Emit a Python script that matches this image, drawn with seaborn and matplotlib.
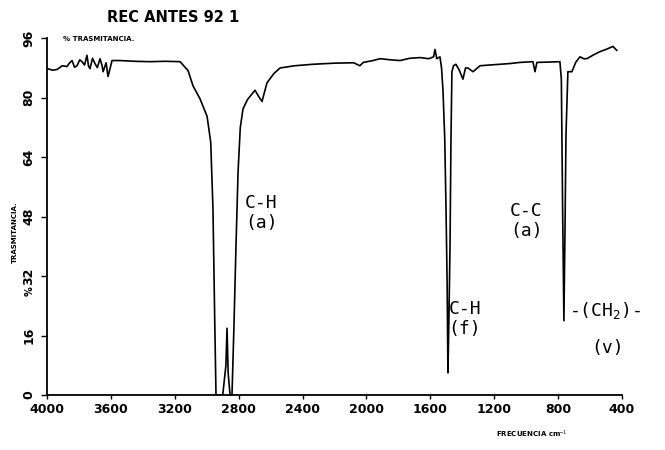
import matplotlib
matplotlib.use("Agg")
import matplotlib.pyplot as plt
import seaborn as sns
import pandas as pd

sns.set_style("ticks")
plt.rcParams['font.family'] = ['DejaVu Sans']
plt.rcParams['mathtext.fontset'] = 'custom'
plt.rcParams['mathtext.rm'] = 'DejaVu Sans Mono'
plt.rcParams['text.color'] = 'black'
plt.rcParams['xtick.color'] = 'black'
plt.rcParams['ytick.color'] = 'black'
plt.rcParams['axes.labelcolor'] = 'black'

# Spectrum (wavenumber cm-1, % transmittance)
wavenumber = [3994, 3965, 3937, 3905, 3875, 3860, 3843, 3828, 3812, 3795, 3781,
              3765, 3750, 3740, 3731, 3715, 3700, 3685, 3668, 3655, 3649, 3630,
              3618, 3593, 3543, 3450, 3355, 3260, 3167, 3117, 3086, 3042, 2998,
              2975, 2961, 2950, 2942, 2923, 2900, 2880, 2873, 2866, 2854, 2842,
              2830, 2817, 2804, 2790, 2773, 2745, 2717, 2698, 2670, 2654, 2623,
              2580, 2541, 2450, 2335, 2200, 2080, 2041, 2020, 1959, 1915, 1850,
              1790, 1730, 1665, 1610, 1580, 1571, 1560, 1540, 1530, 1521, 1510,
              1502, 1495, 1490, 1484, 1477, 1471, 1465, 1455, 1440, 1420, 1396,
              1380, 1365, 1333, 1289, 1230, 1164, 1100, 1039, 958, 945, 933, 850,
              789, 780, 772, 764, 757, 751, 739, 714, 690, 664, 640, 620, 580,
              538, 500, 457, 432]
transmittance = [87.8, 87.4, 87.6, 88.6, 88.4, 89.3, 90.0, 88.2, 88.6, 90.2, 89.7,
                 88.8, 91.4, 88.5, 87.8, 90.6, 89.2, 88.1, 90.5, 88.6, 87.0, 89.4,
                 85.7, 90.0, 90.0, 89.8, 89.7, 89.8, 89.7, 87.3, 83.2, 79.7, 75.0,
                 68.0, 50.0, 20.0, 0.0, 0.0, 0.0, 8.0, 18.0, 6.0, 0.0, 0.0,
                 18.0, 40.0, 60.0, 72.0, 77.0, 79.5, 81.0, 82.0, 80.0, 79.0, 84.0,
                 86.5, 88.0, 88.6, 89.0, 89.3, 89.4, 88.6, 89.5, 90.0, 90.5, 90.2,
                 90.0, 90.6, 90.8, 90.5, 91.0, 93.0, 90.5, 91.0, 88.0, 82.0, 69.0,
                 50.0, 30.0, 6.0, 20.0, 40.0, 69.0, 87.0, 88.6, 89.0, 87.5, 85.0,
                 88.0, 88.0, 87.0, 88.6, 88.8, 89.0, 89.2, 89.5, 89.7, 87.0, 89.5, 89.6,
                 89.7, 85.0, 50.0, 20.0, 45.0, 70.0, 87.0, 87.0, 89.5, 91.0, 90.5,
                 90.5, 91.5, 92.4, 93.0, 93.8, 92.7]

x_ticks = [4000, 3600, 3200, 2800, 2400, 2000, 1600, 1200, 800, 400]
y_ticks = [0, 16, 32, 48, 64, 80, 96]

df = pd.DataFrame({"wn": wavenumber, "T": transmittance})

fig = plt.figure(figsize=(6.65, 4.5), dpi=100)
ax = fig.add_axes([0.0707, 0.122, 0.8647, 0.793])
sns.lineplot(data=df, x="wn", y="T", ax=ax, color="black", linewidth=1.2,
             sort=False, estimator=None)

ax.set_xlim(4000, 400)
ax.set_ylim(0, 96)
ax.set_xticks(x_ticks)
ax.set_xticklabels([str(v) for v in x_ticks], fontsize=9, fontweight="bold")
ax.set_yticks(y_ticks)
ax.set_yticklabels([str(v) for v in y_ticks], fontsize=9, fontweight="bold",
                   rotation=90, va="center")
ax.tick_params(axis="y", length=4.5, width=1, color="black", pad=4)
ax.tick_params(axis="x", length=3, width=1, color="black", pad=3)
ax.set_xlabel("")
ax.set_ylabel("")
for s in ("top", "right"):
    ax.spines[s].set_visible(False)
for s in ("left", "bottom"):
    ax.spines[s].set_linewidth(1.3)
    ax.spines[s].set_color("black")

mono = "DejaVu Sans Mono"
ax.text(2760, 54, "C-H\n(a)", family=mono, fontsize=13, va="top", ha="left",
        linespacing=1.15)
ax.text(1102, 52, "C-C\n(a)", family=mono, fontsize=13, va="top", ha="left",
        linespacing=1.15)
ax.text(1485, 25.5, "C-H\n(f)", family=mono, fontsize=13, va="top", ha="left",
        linespacing=1.15)
ax.text(735, 25.5, "-(CH$_{2}$)-", family=mono, fontsize=13, va="top", ha="left")
ax.text(590, 15.0, "(v)", family=mono, fontsize=13, va="top", ha="left")

fig.text(0.26, 0.96, "REC ANTES 92 1", fontsize=10.5, fontweight="bold",
         ha="center", va="center")
fig.text(0.094, 0.913, "% TRASMITANCIA.", fontsize=5, fontweight="bold",
         ha="left", va="center")
fig.text(0.0225, 0.485, "TRASMITANCIA.", fontsize=5, fontweight="bold",
         ha="center", va="center", rotation=90)
fig.text(0.045, 0.352, "%", fontsize=7, fontweight="bold",
         ha="center", va="center", rotation=90)
fig.text(0.80, 0.035, "FRECUENCIA cm$^{-1}$", fontsize=5, fontweight="bold",
         ha="center", va="center")

fig.savefig("out.png", dpi=100, facecolor="white")
